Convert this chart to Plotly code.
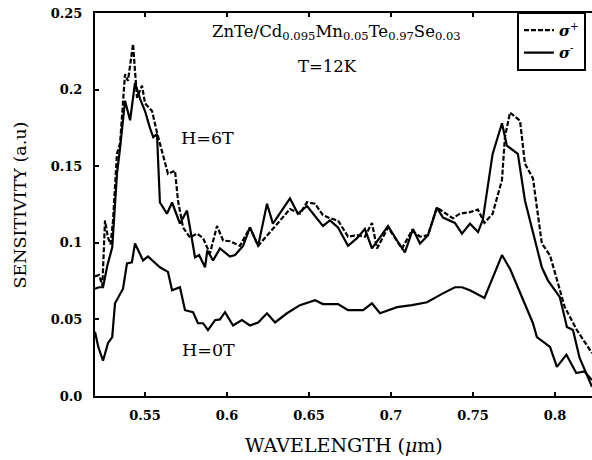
import plotly.graph_objects as go

# ---- data ----
x_6T_plus = [0.5195, 0.522, 0.524, 0.5256, 0.5274, 0.529, 0.5305, 0.5329, 0.5348, 0.5378, 0.5396,
             0.5427, 0.5451, 0.5482, 0.550, 0.5543, 0.5573, 0.561, 0.564, 0.5683, 0.5701, 0.5732,
             0.5774, 0.5817, 0.5854, 0.5896, 0.5939, 0.5976, 0.6018, 0.6079, 0.614, 0.619, 0.6293,
             0.6384, 0.6445, 0.6488, 0.6537, 0.6585, 0.6628, 0.6677, 0.6738, 0.6793, 0.6841, 0.6884,
             0.6915, 0.6982, 0.7067, 0.7128, 0.7177, 0.7226, 0.728, 0.7329, 0.7378, 0.742, 0.7482,
             0.753, 0.757, 0.762, 0.7677, 0.7695, 0.7726, 0.7787, 0.7817, 0.7866, 0.792, 0.797,
             0.803, 0.806, 0.8134, 0.8226]
y_6T_plus = [0.078, 0.079, 0.072, 0.1146, 0.1035, 0.099, 0.1146, 0.158, 0.165, 0.210, 0.2057,
             0.2298, 0.1947, 0.2025, 0.191, 0.186, 0.172, 0.158, 0.145, 0.147, 0.1276, 0.110,
             0.1035, 0.106, 0.103, 0.093, 0.111, 0.1015, 0.101, 0.098, 0.110, 0.098, 0.111,
             0.122, 0.119, 0.1265, 0.1255, 0.118, 0.116, 0.1146, 0.104, 0.105, 0.104, 0.113,
             0.0963, 0.110, 0.0963, 0.108, 0.104, 0.105, 0.123, 0.1195, 0.116, 0.119, 0.120,
             0.1217, 0.113, 0.119, 0.141, 0.169, 0.185, 0.1797, 0.1517, 0.142, 0.0996, 0.0918,
             0.069, 0.058, 0.043, 0.028]

x_6T_minus = [0.5195, 0.522, 0.5244, 0.527, 0.530, 0.5329, 0.5348, 0.5378, 0.5409, 0.5439, 0.547,
              0.550, 0.553, 0.555, 0.5573, 0.5591, 0.5634, 0.5665, 0.5713, 0.5756, 0.5774, 0.5805,
              0.583, 0.5866, 0.588, 0.5915, 0.5957, 0.6018, 0.6049, 0.6098, 0.614, 0.619, 0.6244,
              0.628, 0.6384, 0.6433, 0.6488, 0.6585, 0.6628, 0.6677, 0.6738, 0.6793, 0.6841, 0.6884,
              0.6933, 0.6982, 0.7037, 0.7085, 0.7134, 0.7177, 0.7226, 0.728, 0.7317, 0.739, 0.7433,
              0.7482, 0.7531, 0.756, 0.762, 0.7677, 0.7707, 0.7774, 0.7817, 0.792, 0.7957, 0.803,
              0.8073, 0.811, 0.815, 0.8226]
y_6T_minus = [0.070, 0.071, 0.071, 0.085, 0.097, 0.145, 0.162, 0.1927, 0.180, 0.2044, 0.194,
              0.186, 0.175, 0.169, 0.171, 0.1263, 0.119, 0.1263, 0.1126, 0.121, 0.110, 0.0905,
              0.092, 0.084, 0.095, 0.0885, 0.0963, 0.091, 0.092, 0.098, 0.110, 0.098, 0.1255,
              0.1125, 0.129, 0.119, 0.124, 0.111, 0.1146, 0.110, 0.098, 0.103, 0.109, 0.0963,
              0.1035, 0.111, 0.1015, 0.0937, 0.109, 0.0995, 0.105, 0.123, 0.1165, 0.113, 0.106,
              0.1125, 0.107, 0.115, 0.158, 0.178, 0.1634, 0.158, 0.1276, 0.084, 0.0755, 0.0645,
              0.045, 0.043, 0.025, 0.006]

x_0T = [0.5195, 0.5215, 0.5244, 0.5274, 0.530, 0.5317, 0.5366, 0.539, 0.542, 0.5439, 0.5488,
        0.5518, 0.5591, 0.564, 0.5665, 0.5713, 0.5744, 0.5793, 0.5823, 0.5854, 0.5884, 0.5927,
        0.5957, 0.5988, 0.6037, 0.6091, 0.614, 0.619, 0.6244, 0.6293, 0.6366, 0.6445, 0.6537,
        0.6585, 0.6677, 0.6738, 0.683, 0.6884, 0.6933, 0.7037, 0.7128, 0.722, 0.7317, 0.739,
        0.7433, 0.7482, 0.757, 0.7677, 0.7726, 0.7787, 0.7866, 0.789, 0.797, 0.8012, 0.807,
        0.813, 0.818, 0.8226]
y_0T = [0.042, 0.032, 0.023, 0.0345, 0.0385, 0.0605, 0.070, 0.0865, 0.0873, 0.0996, 0.0885,
        0.0911, 0.084, 0.081, 0.069, 0.071, 0.056, 0.0547, 0.0475, 0.0475, 0.043, 0.0495,
        0.050, 0.0547, 0.046, 0.0495, 0.046, 0.048, 0.054, 0.048, 0.054, 0.0593, 0.0625,
        0.060, 0.060, 0.056, 0.056, 0.0605, 0.054, 0.058, 0.0593, 0.0612, 0.067, 0.071,
        0.071, 0.069, 0.064, 0.092, 0.083, 0.067, 0.0475, 0.0385, 0.032, 0.019, 0.027,
        0.015, 0.016, 0.0104]

x_ticks = [0.55, 0.6, 0.65, 0.7, 0.75, 0.8]
x_tick_labels = ["0.55", "0.6", "0.65", "0.7", "0.75", "0.8"]
y_ticks = [0.0, 0.05, 0.1, 0.15, 0.2, 0.25]
y_tick_labels = ["0.0", "0.05", "0.1", "0.15", "0.2", "0.25"]

SERIF = "DejaVu Serif"

fig = go.Figure()
fig.add_trace(go.Scatter(x=x_6T_plus, y=y_6T_plus, mode="lines", name="<b><i>σ</i></b><sup>+</sup>",
                         line=dict(color="black", width=2.2, dash="5px,2px")))
fig.add_trace(go.Scatter(x=x_6T_minus, y=y_6T_minus, mode="lines", name="<b><i>σ</i></b><sup>-</sup>",
                         line=dict(color="black", width=2.2)))
fig.add_trace(go.Scatter(x=x_0T, y=y_0T, mode="lines", showlegend=False,
                         line=dict(color="black", width=2.2)))

fig.update_layout(
    width=592, height=460,
    margin=dict(l=95, r=0, t=13, b=64, autoexpand=False),
    paper_bgcolor="white", plot_bgcolor="white",
    font=dict(family=SERIF, color="black"),
    showlegend=True,
    legend=dict(x=0.849, y=1.003, xanchor="left", yanchor="top",
                bgcolor="white", bordercolor="black", borderwidth=2,
                font=dict(family=SERIF, size=15), tracegroupgap=0),
    xaxis=dict(range=[0.5195, 0.8226], tickvals=x_ticks, ticktext=x_tick_labels,
               ticks="inside", ticklen=4, tickwidth=2, tickcolor="black",
               showline=True, linecolor="black", linewidth=2, mirror="ticks",
               showgrid=False, zeroline=False,
               tickfont=dict(family=SERIF, size=13, weight="bold"),
               ticklabelstandoff=6),
    yaxis=dict(range=[0, 0.25], tickvals=y_ticks, ticktext=y_tick_labels,
               ticks="inside", ticklen=4, tickwidth=2, tickcolor="black",
               showline=True, linecolor="black", linewidth=2, mirror=False,
               showgrid=False, zeroline=False,
               tickfont=dict(family=SERIF, size=13, weight="bold"),
               ticklabelstandoff=8),
)

annots = [
    dict(x=0.5, y=-0.127, xref="paper", yref="paper", text="WAVELENGTH (<i>μ</i>m)",
         showarrow=False, font=dict(size=19), xanchor="center", yanchor="middle"),
    dict(x=-0.151, y=0.5, xref="paper", yref="paper", text="SENSITIVITY (a.u)",
         showarrow=False, font=dict(size=17.5), textangle=-90, xanchor="center", yanchor="middle"),
    dict(x=0.667, y=0.237, xref="x", yref="y",
         text="ZnTe/Cd<sub>0.095</sub>Mn<sub>0.05</sub>Te<sub>0.97</sub>Se<sub>0.03</sub>",
         showarrow=False, font=dict(size=16.5)),
    dict(x=0.661, y=0.2154, xref="x", yref="y", text="T=12K", showarrow=False, font=dict(size=16.5)),
    dict(x=0.5884, y=0.1684, xref="x", yref="y", text="H=6T", showarrow=False, font=dict(size=17.5)),
    dict(x=0.589, y=0.030, xref="x", yref="y", text="H=0T", showarrow=False, font=dict(size=17.5)),
]
fig.update_layout(annotations=annots)

fig.write_html("out.html", config={"displayModeBar": False},
               post_script="document.body.style.margin='0';document.body.style.overflow='hidden';")
